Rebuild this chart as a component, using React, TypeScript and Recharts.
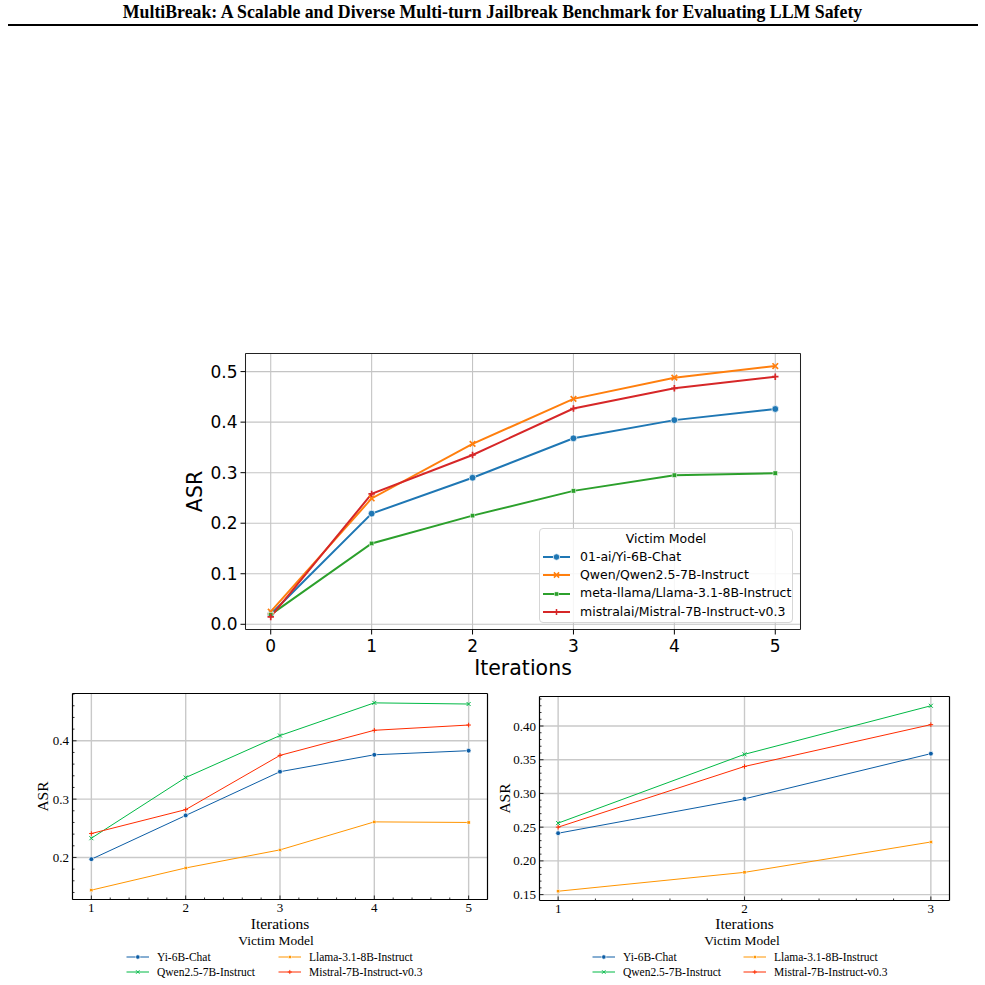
import React from 'react';
import { LineChart, Line, XAxis, YAxis, CartesianGrid, Legend, ReferenceLine } from 'recharts';

// main chart (iterations 0..5)
const ITER_MAIN = [0, 1, 2, 3, 4, 5];
const YI_MAIN = [0.02, 0.219, 0.29, 0.368, 0.404, 0.426];
const QWEN_MAIN = [0.025, 0.249, 0.357, 0.446, 0.488, 0.511];
const LLAMA_MAIN = [0.019, 0.16, 0.215, 0.264, 0.295, 0.299];
const MISTRAL_MAIN = [0.0145, 0.258, 0.335, 0.427, 0.467, 0.49];

// bottom left (iterations 1..5)
const ITER_A = [1, 2, 3, 4, 5];
const YI_A = [0.197, 0.272, 0.347, 0.376, 0.383];
const QWEN_A = [0.233, 0.337, 0.409, 0.465, 0.463];
const LLAMA_A = [0.144, 0.182, 0.213, 0.261, 0.26];
const MISTRAL_A = [0.241, 0.282, 0.375, 0.418, 0.427];

// bottom right (iterations 1..3)
const ITER_B = [1, 2, 3];
const YI_B = [0.241, 0.292, 0.359];
const QWEN_B = [0.256, 0.358, 0.43];
const LLAMA_B = [0.155, 0.183, 0.228];
const MISTRAL_B = [0.25, 0.34, 0.402];

const NAMES_MAIN = [
  '01-ai/Yi-6B-Chat',
  'Qwen/Qwen2.5-7B-Instruct',
  'meta-llama/Llama-3.1-8B-Instruct',
  'mistralai/Mistral-7B-Instruct-v0.3',
];
const NAMES_SHORT = ['Yi-6B-Chat', 'Qwen2.5-7B-Instruct', 'Llama-3.1-8B-Instruct', 'Mistral-7B-Instruct-v0.3'];

const TICKS_X_MAIN = [0, 1, 2, 3, 4, 5];
const TICKS_Y_MAIN = [0, 0.1, 0.2, 0.3, 0.4, 0.5];
const TICKS_X_A = [1, 2, 3, 4, 5];
const TICKS_Y_A = [0.2, 0.3, 0.4];
const TICKS_X_B = [1, 2, 3];
const TICKS_Y_B = [0.15, 0.2, 0.25, 0.3, 0.35, 0.4];

const TITLE = 'MultiBreak: A Scalable and Diverse Multi-turn Jailbreak Benchmark for Evaluating LLM Safety';

const SANS = '"DejaVu Sans", sans-serif';
const SERIF = '"Liberation Serif", "Times New Roman", serif';

const KEYS = ['yi', 'qwen', 'llama', 'mistral'];
const SHAPES = ['circle', 'x', 'square', 'plus'];
const COLORS_MAIN = ['#1f77b4', '#ff7f0e', '#2ca02c', '#d62728'];
// small panels: Yi, Qwen, Llama, Mistral -> blue, green, orange, red
const COLORS_SCI = ['#0C5DA5', '#00B945', '#FF9500', '#FF2C00'];

const rows = (xs: number[], series: number[][]) =>
  xs.map((x, i) => {
    const r: Record<string, number> = { x };
    KEYS.forEach((k, j) => (r[k] = series[j][i]));
    return r;
  });

const dataMain = rows(ITER_MAIN, [YI_MAIN, QWEN_MAIN, LLAMA_MAIN, MISTRAL_MAIN]);
const dataA = rows(ITER_A, [YI_A, QWEN_A, LLAMA_A, MISTRAL_A]);
const dataB = rows(ITER_B, [YI_B, QWEN_B, LLAMA_B, MISTRAL_B]);

// matplotlib style 5% autoscale margins
const pad = (vals: number[]): [number, number] => {
  const lo = Math.min(...vals);
  const hi = Math.max(...vals);
  const m = (hi - lo) * 0.05;
  return [lo - m, hi + m];
};

const minor = (dom: [number, number], step: number) => {
  const out: number[] = [];
  for (let v = Math.ceil(dom[0] / step - 1e-9) * step; v <= dom[1] + 1e-9; v += step) {
    out.push(Math.round(v * 1e6) / 1e6);
  }
  return out;
};

const isMajor = (majors: number[], v: number) => majors.some((m) => Math.abs(m - v) < 1e-6);

function Marker({ shape, cx, cy, color, s, w, edge }: any) {
  if (cx == null || cy == null) return null;
  if (shape === 'circle') return <circle cx={cx} cy={cy} r={s} fill={color} stroke={edge} strokeWidth={0.7} />;
  if (shape === 'square')
    return <rect x={cx - s * 0.8} y={cy - s * 0.8} width={s * 1.6} height={s * 1.6} fill={color} stroke={edge} strokeWidth={0.5} />;
  if (shape === 'x')
    return (
      <path
        d={`M${cx - s},${cy - s}L${cx + s},${cy + s}M${cx - s},${cy + s}L${cx + s},${cy - s}`}
        stroke={color}
        strokeWidth={w}
        fill="none"
      />
    );
  const p = s * 1.15;
  return <path d={`M${cx - p},${cy}L${cx + p},${cy}M${cx},${cy - p}L${cx},${cy + p}`} stroke={color} strokeWidth={w} fill="none" />;
}

function XLabel({ viewBox, text, dy, size, family }: any) {
  const cx = viewBox.x + viewBox.width / 2;
  return (
    <text x={cx} y={viewBox.y + dy} textAnchor="middle" fontSize={size} fontFamily={family} fill="#000">
      {text}
    </text>
  );
}

function YLabel({ viewBox, text, dx, size, family }: any) {
  const cx = viewBox.x + dx;
  const cy = viewBox.y + viewBox.height / 2;
  return (
    <text
      x={cx}
      y={cy}
      transform={`rotate(-90 ${cx} ${cy})`}
      textAnchor="middle"
      dominantBaseline="central"
      fontSize={size}
      fontFamily={family}
      fill="#000"
    >
      {text}
    </text>
  );
}

// inward ticks for the science-style panels
function SciTick(props: any) {
  const { x, y, payload, side, majors, fmt, gap } = props;
  const v = payload.value;
  const major = isMajor(majors, v);
  const len = major ? 4 : 2;
  const sw = 0.8;
  if (side === 'bottom') {
    const ay = y - gap;
    return (
      <g>
        <line x1={x} x2={x} y1={ay} y2={ay - len} stroke="#000" strokeWidth={sw} />
        {major && (
          <text x={x} y={y} dy="0.71em" textAnchor="middle" fontSize={13} fontFamily={SERIF} fill="#000">
            {fmt(v)}
          </text>
        )}
      </g>
    );
  }
  if (side === 'top') return <line x1={x} x2={x} y1={y} y2={y + len} stroke="#000" strokeWidth={sw} />;
  if (side === 'right') return <line x1={x} x2={x - len} y1={y} y2={y} stroke="#000" strokeWidth={sw} />;
  const ax = x + gap;
  return (
    <g>
      <line x1={ax} x2={ax + len} y1={y} y2={y} stroke="#000" strokeWidth={sw} />
      {major && (
        <text x={x} y={y} dy="0.355em" textAnchor="end" fontSize={13} fontFamily={SERIF} fill="#000">
          {fmt(v)}
        </text>
      )}
    </g>
  );
}

function MainLegend() {
  return (
    <div
      style={{
        boxSizing: 'border-box',
        width: 254,
        height: 95,
        border: '1px solid #d6d6d6',
        borderRadius: 4,
        background: 'rgba(255,255,255,0.85)',
        fontFamily: SANS,
        fontSize: 12.5,
        lineHeight: '18.3px',
        color: '#000',
        paddingTop: 0.5,
      }}
    >
      <div style={{ textAlign: 'center' }}>Victim Model</div>
      {NAMES_MAIN.map((n, i) => (
        <div key={n} style={{ display: 'flex', alignItems: 'center', height: 18.3 }}>
          <svg width={40} height={12} style={{ flex: 'none' }}>
            <line x1={3} x2={30} y1={6} y2={6} stroke={COLORS_MAIN[i]} strokeWidth={2} />
            <Marker shape={SHAPES[i]} cx={16.5} cy={6} s={i === 0 ? 3.2 : 2.6} w={1.5} color={COLORS_MAIN[i]} edge="#fff" />
          </svg>
          <span style={{ whiteSpace: 'nowrap' }}>{n}</span>
        </div>
      ))}
    </div>
  );
}

function SciLegend({ col2 }: { col2: number }) {
  const item = (i: number, left: number, top: number) => (
    <div key={i} style={{ position: 'absolute', left, top, display: 'flex', alignItems: 'center', height: 14 }}>
      <svg width={31} height={10} style={{ flex: 'none' }}>
        <line x1={0.5} x2={23} y1={5} y2={5} stroke={COLORS_SCI[i]} strokeWidth={1} />
        <Marker shape={SHAPES[i]} cx={11.8} cy={5} s={i === 0 ? 2.2 : 1.8} w={0.9} color={COLORS_SCI[i]} edge="#fff" />
      </svg>
      <span style={{ whiteSpace: 'nowrap' }}>{NAMES_SHORT[i]}</span>
    </div>
  );
  return (
    <div style={{ position: 'relative', width: 300, height: 50, fontFamily: SERIF, fontSize: 11.5, color: '#000' }}>
      <div style={{ position: 'absolute', left: 0, width: '100%', top: 0, textAlign: 'center', fontSize: 13.5, lineHeight: '17px' }}>
        Victim Model
      </div>
      {item(0, 0, 18)}
      {item(1, 0, 32.7)}
      {item(2, col2, 18)}
      {item(3, col2, 32.7)}
    </div>
  );
}

function MainChart() {
  const xDom = pad(ITER_MAIN);
  const yDom = pad([...YI_MAIN, ...QWEN_MAIN, ...LLAMA_MAIN, ...MISTRAL_MAIN]);
  // half-pixel offsets keep the 1px frame crisp
  return (
    <LineChart width={640} height={350} data={dataMain} margin={{ top: 13.5, right: 19.5, left: 0, bottom: 0 }}>
      <CartesianGrid stroke="#c4c4c4" strokeWidth={1.1} />
      <XAxis
        dataKey="x"
        type="number"
        domain={xDom}
        ticks={TICKS_X_MAIN}
        allowDataOverflow
        interval={0}
        height={60.5}
        tickSize={5}
        tickMargin={5}
        tick={{ fill: '#000', fontSize: 17, fontFamily: SANS }}
        tickLine={{ stroke: '#000', strokeWidth: 1 }}
        axisLine={{ stroke: '#222', strokeWidth: 1 }}
        label={<XLabel text="Iterations" dy={45.5} size={20.5} family={SANS} />}
      />
      <YAxis
        type="number"
        domain={yDom}
        ticks={TICKS_Y_MAIN}
        allowDataOverflow
        interval={0}
        width={65.5}
        tickSize={5}
        tickMargin={3}
        tickFormatter={(v: number) => v.toFixed(1)}
        tick={{ fill: '#000', fontSize: 17, fontFamily: SANS }}
        tickLine={{ stroke: '#000', strokeWidth: 1 }}
        axisLine={{ stroke: '#222', strokeWidth: 1 }}
        label={<YLabel text="ASR" dx={15} size={20.5} family={SANS} />}
      />
      {/* top and right spines */}
      <ReferenceLine y={yDom[1]} stroke="#222" strokeWidth={1} ifOverflow="visible" />
      <ReferenceLine x={xDom[1]} stroke="#222" strokeWidth={1} ifOverflow="visible" />
      {KEYS.map((k, i) => (
        <Line
          key={k}
          dataKey={k}
          name={NAMES_MAIN[i]}
          type="linear"
          stroke={COLORS_MAIN[i]}
          strokeWidth={2}
          isAnimationActive={false}
          dot={(p: any) => (
            <Marker key={`${k}-${p.index}`} shape={SHAPES[i]} cx={p.cx} cy={p.cy} s={i === 0 ? 3.4 : 2.8} w={1.7} color={COLORS_MAIN[i]} edge="#fff" />
          )}
          activeDot={false}
        />
      ))}
      <Legend
        layout="horizontal"
        verticalAlign="middle"
        align="center"
        wrapperStyle={{ left: 359, top: 188, width: 254, height: 95 }}
        content={() => <MainLegend />}
      />
    </LineChart>
  );
}

function SciChart({ data, xs, series, xTicks, yTicks, yStep, fmtY, w, h, marginTop, marginRight, yWidth, xHeight, yLabelDx, xLabelDy, legendLeft, legendCol2 }: any) {
  const xDom = pad(xs);
  const yDom = pad(series.flat());
  const xAll = minor(xDom, 0.2);
  const yAll = minor(yDom, yStep);
  const fmtX = (v: number) => String(v);
  return (
    <LineChart width={w} height={h} data={data} margin={{ top: marginTop, right: marginRight, left: 0, bottom: 0 }}>
      <CartesianGrid stroke="#c9c9c9" strokeWidth={1.4} verticalValues={xTicks} horizontalValues={yTicks} />
      <XAxis
        dataKey="x"
        type="number"
        domain={xDom}
        ticks={xAll}
        allowDataOverflow
        interval={0}
        height={xHeight}
        tickSize={0}
        tickMargin={3}
        tickLine={false}
        axisLine={{ stroke: '#000', strokeWidth: 1.2 }}
        tick={<SciTick side="bottom" majors={xTicks} fmt={fmtX} gap={3} />}
        label={<XLabel text="Iterations" dy={xLabelDy} size={15.5} family={SERIF} />}
      />
      <YAxis
        type="number"
        domain={yDom}
        ticks={yAll}
        allowDataOverflow
        interval={0}
        width={yWidth}
        tickSize={0}
        tickMargin={3.5}
        tickLine={false}
        axisLine={{ stroke: '#000', strokeWidth: 1.2 }}
        tick={<SciTick side="left" majors={yTicks} fmt={fmtY} gap={3.5} />}
        label={<YLabel text="ASR" dx={yLabelDx} size={15.5} family={SERIF} />}
      />
      <XAxis
        xAxisId="top"
        orientation="top"
        type="number"
        domain={xDom}
        ticks={xAll}
        allowDataOverflow
        interval={0}
        height={0}
        tickSize={0}
        tickMargin={0}
        tickLine={false}
        axisLine={{ stroke: '#000', strokeWidth: 1.2 }}
        tick={<SciTick side="top" majors={xTicks} />}
      />
      <YAxis
        yAxisId="right"
        orientation="right"
        type="number"
        domain={yDom}
        ticks={yAll}
        allowDataOverflow
        interval={0}
        width={0}
        tickSize={0}
        tickMargin={0}
        tickLine={false}
        axisLine={{ stroke: '#000', strokeWidth: 1.2 }}
        tick={<SciTick side="right" majors={yTicks} />}
      />
      <ReferenceLine y={yDom[1]} stroke="#000" strokeWidth={1.2} ifOverflow="visible" />
      <ReferenceLine x={xDom[1]} stroke="#000" strokeWidth={1.2} ifOverflow="visible" />
      {/* hidden series keeps the mirrored top/right axes bound */}
      <Line xAxisId="top" yAxisId="right" dataKey="yi" stroke="none" dot={false} activeDot={false} legendType="none" isAnimationActive={false} />
      {KEYS.map((k, i) => (
        <Line
          key={k}
          dataKey={k}
          name={NAMES_SHORT[i]}
          type="linear"
          stroke={COLORS_SCI[i]}
          strokeWidth={1}
          isAnimationActive={false}
          dot={(p: any) => (
            <Marker key={`${k}-${p.index}`} shape={SHAPES[i]} cx={p.cx} cy={p.cy} s={i === 0 ? 2.4 : 2} w={1} color={COLORS_SCI[i]} edge="#fff" />
          )}
          activeDot={false}
        />
      ))}
      <Legend
        layout="horizontal"
        verticalAlign="middle"
        align="center"
        wrapperStyle={{ left: legendLeft, top: 244, width: 300, height: 50 }}
        content={() => <SciLegend col2={legendCol2} />}
      />
    </LineChart>
  );
}

export default function App() {
  return (
    <div style={{ position: 'absolute', left: 0, top: 0, width: 985, height: 985, background: '#fff', overflow: 'hidden' }}>
      <div
        style={{
          position: 'absolute',
          left: 0,
          top: 2,
          width: 985,
          textAlign: 'center',
          fontFamily: SERIF,
          fontWeight: 'bold',
          fontSize: 17.8,
          lineHeight: '20px',
          color: '#000',
          whiteSpace: 'nowrap',
        }}
      >
        {TITLE}
      </div>
      <div style={{ position: 'absolute', left: 8, top: 24, width: 970, height: 2, background: '#000' }} />

      <div style={{ position: 'absolute', left: 180, top: 340 }}>
        <MainChart />
      </div>

      <div style={{ position: 'absolute', left: 20, top: 688 }}>
        <SciChart
          data={dataA}
          xs={ITER_A}
          series={[YI_A, QWEN_A, LLAMA_A, MISTRAL_A]}
          xTicks={TICKS_X_A}
          yTicks={TICKS_Y_A}
          yStep={0.02}
          fmtY={(v: number) => v.toFixed(1)}
          w={480}
          h={297}
          marginTop={5.5}
          marginRight={12.5}
          yWidth={52.5}
          xHeight={85.5}
          yLabelDx={22}
          xLabelDy={29.5}
          legendLeft={106}
          legendCol2={152}
        />
      </div>

      <div style={{ position: 'absolute', left: 490, top: 688 }}>
        <SciChart
          data={dataB}
          xs={ITER_B}
          series={[YI_B, QWEN_B, LLAMA_B, MISTRAL_B]}
          xTicks={TICKS_X_B}
          yTicks={TICKS_Y_B}
          yStep={0.01}
          fmtY={(v: number) => v.toFixed(2)}
          w={470}
          h={297}
          marginTop={8.5}
          marginRight={10.5}
          yWidth={49.5}
          xHeight={84.5}
          yLabelDx={14}
          xLabelDy={28.5}
          legendLeft={102}
          legendCol2={151}
        />
      </div>
    </div>
  );
}
